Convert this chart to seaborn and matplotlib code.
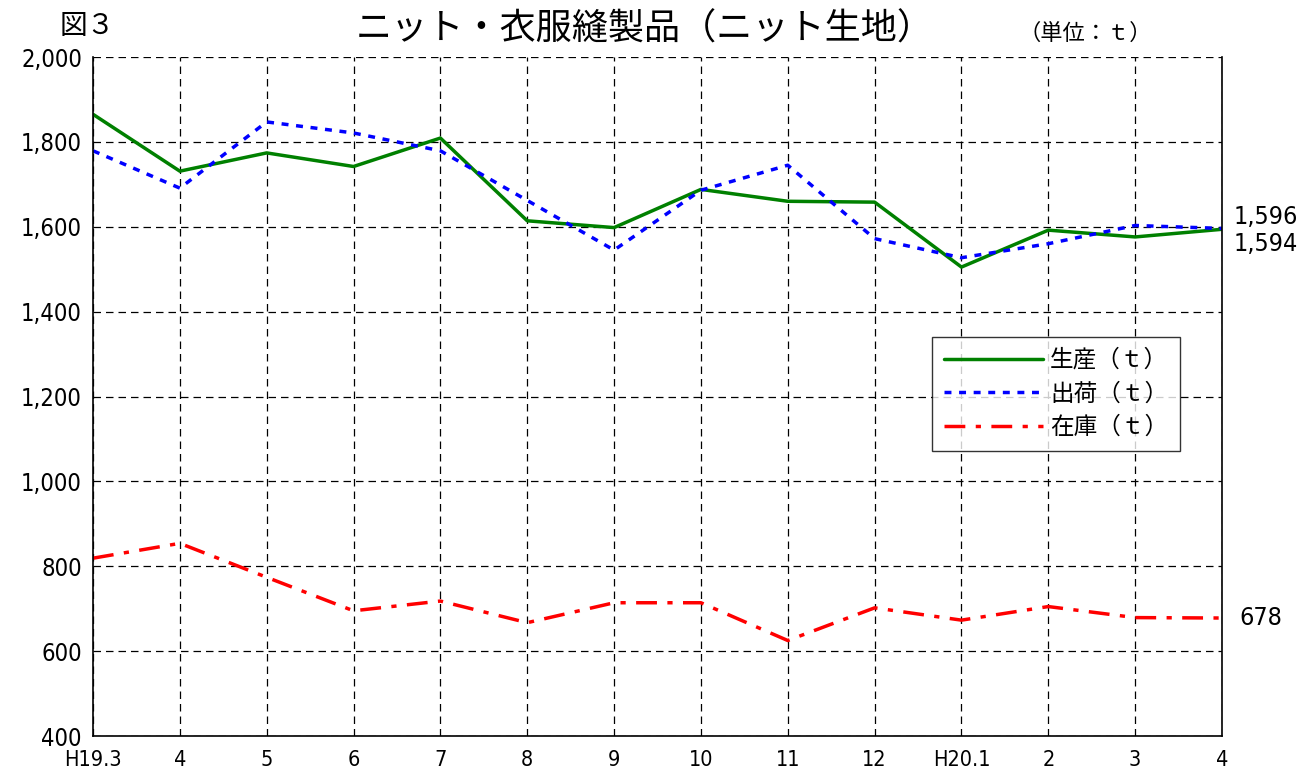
import numpy as np
import pandas as pd
import matplotlib
matplotlib.use("Agg")
import matplotlib.pyplot as plt
import seaborn as sns

# Data
months = ["H19.3", "4", "5", "6", "7", "8", "9", "10", "11", "12", "H20.1", "2", "3", "4"]
production = [1865, 1731, 1774, 1742, 1809, 1614, 1598, 1688, 1660, 1658, 1505, 1592, 1576, 1594]
shipments = [1779, 1691, 1847, 1821, 1779, 1662, 1545, 1686, 1745, 1572, 1527, 1560, 1603, 1596]
inventory = [819, 854, 774, 695, 718, 667, 714, 714, 625, 702, 673, 705, 679, 678]

series_names = ["生産（ｔ）", "出荷（ｔ）", "在庫（ｔ）"]
colors = ["#008000", "#0000FF", "#FF0000"]
dashes = [(None, None), (2, 2.2), (6, 3, 1.5, 3)]

sns.set_theme(style="white")
plt.rcParams["font.family"] = ["Noto Sans CJK JP", "DejaVu Sans"]
plt.rcParams["text.color"] = "black"
plt.rcParams["xtick.color"] = "black"
plt.rcParams["ytick.color"] = "black"
num_font = dict(family="DejaVu Sans", fontstretch="condensed")

x = np.arange(len(months))
df = pd.DataFrame({"x": np.tile(x, 3),
                   "value": production + shipments + inventory,
                   "series": np.repeat(series_names, len(months))})

fig = plt.figure(figsize=(13.16, 7.78), dpi=100)
ax = fig.add_axes([93 / 1316, 1 - 736 / 778, (1222 - 93) / 1316, (736 - 57) / 778])

for name, c, d in zip(series_names, colors, dashes):
    sub = df[df["series"] == name]
    sns.lineplot(data=sub, x="x", y="value", ax=ax, color=c, linewidth=2.5, label=name)
    if d[0] is not None:
        ax.lines[-1].set_dashes(d)

ax.set_xlim(0, 13)
ax.set_ylim(400, 2000)
ax.set_xticks(x)
ax.set_xticklabels(months, fontsize=15.5, **num_font)
ax.set_yticks(range(400, 2001, 200))
ax.set_yticklabels([f"{v:,}" for v in range(400, 2001, 200)], fontsize=17, **num_font)
ax.set_xlabel("")
ax.set_ylabel("")
ax.tick_params(axis="x", direction="in", length=5, pad=10)
ax.tick_params(axis="y", direction="in", length=5, pad=8)

ax.grid(True, color="black", linestyle=(0, (6, 4)), linewidth=0.9)
for s in ["left", "bottom", "right"]:
    ax.spines[s].set_color("black")
    ax.spines[s].set_linewidth(1.2)
ax.spines["top"].set_visible(False)

leg = ax.legend(loc="upper left", bbox_to_anchor=((932 - 93) / 1129, 1 - (337 - 57) / 679),
                borderaxespad=0, fontsize=17, frameon=True, fancybox=False, edgecolor="black",
                handlelength=4.2, borderpad=0.5, labelspacing=0.45, handletextpad=0.3)
leg.get_frame().set_linewidth(1.0)
for h, d in zip(leg.get_lines(), dashes):
    if d[0] is not None:
        h.set_dashes(d)

# End-point value labels
ax.text(13.13, shipments[-1] + 28, f"{shipments[-1]:,}", fontsize=18, va="center", ha="left",
        clip_on=False, **num_font)
ax.text(13.13, production[-1] - 35, f"{production[-1]:,}", fontsize=18, va="center", ha="left",
        clip_on=False, **num_font)
ax.text(13.2, inventory[-1], f"{inventory[-1]:,}", fontsize=18, va="center", ha="left",
        clip_on=False, **num_font)

fig.text(60 / 1316, 1 - 26 / 778, "図３", fontsize=20, va="center", ha="left")
fig.text(645 / 1316, 1 - 30 / 778, "ニット・衣服縫製品（ニット生地）", fontsize=26, va="center", ha="center")
fig.text(1018 / 1316, 1 - 33 / 778, "（単位：ｔ）", fontsize=16, va="center", ha="left")

fig.savefig("out.png", dpi=100)
